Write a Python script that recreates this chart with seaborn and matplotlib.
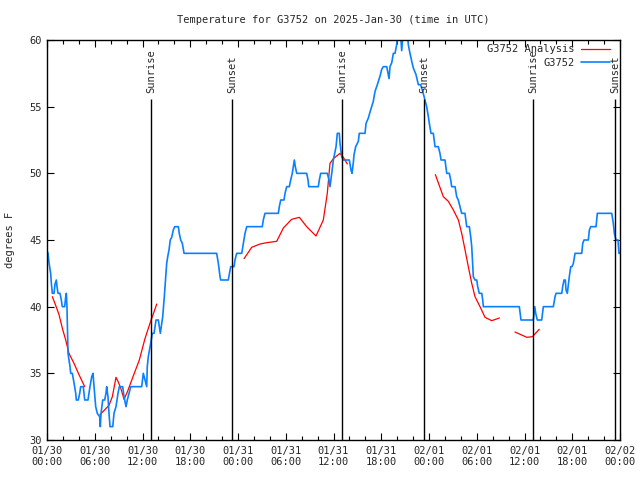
import numpy as np
import pandas as pd
import matplotlib
matplotlib.use("Agg")
import matplotlib.pyplot as plt
import seaborn as sns
from matplotlib.ticker import MultipleLocator
from matplotlib.lines import Line2D

# ---- data (hours since 2025-01-30 00:00 UTC, degrees F) ----
obs_hours = [0, 0.13, 0.25, 0.46, 0.54, 0.67, 0.88, 1.01, 1.17, 1.26, 1.38, 1.63, 1.80, 1.92,
             2.22, 2.35, 2.43, 2.51, 2.64, 2.89, 2.98, 3.18, 3.39, 3.61, 3.68, 3.93, 4.11, 4.23,
             4.56, 4.74, 5.15, 5.40, 5.62, 5.78, 5.91, 6.12, 6.32, 6.62, 6.70, 6.79, 7.00, 7.25,
             7.41, 7.50, 7.67, 7.79, 7.92, 8.26, 8.42, 8.67, 8.92, 9.09, 9.51, 9.68, 9.93, 10.09,
             10.30, 10.52, 10.93, 11.90, 12.10, 12.31, 12.53, 12.60, 12.73, 13.03, 13.23, 13.45,
             13.70, 13.99, 14.11, 14.24, 14.36, 14.54, 14.74, 14.92, 15.04, 15.17, 15.33, 15.49,
             15.67, 15.87, 16.05, 16.50, 16.62, 16.80, 17.00, 17.22, 21.32, 21.53, 21.74, 21.83,
             22.78, 23.00, 23.08, 23.50, 23.62, 23.84, 24.47, 24.67, 24.88, 25.10, 27.05, 27.18,
             27.39, 29.07, 29.19, 29.37, 29.78, 29.91, 30.12, 30.45, 30.62, 30.82, 30.95, 31.08,
             31.20, 31.38, 32.63, 32.80, 32.89, 34.09, 34.22, 34.39, 35.22, 35.44, 35.56, 35.78,
             35.98, 36.32, 36.48, 36.73, 36.82, 37.03, 37.23, 37.99, 38.20, 38.33, 38.49, 38.58,
             38.79, 39.12, 39.24, 39.96, 40.09, 40.38, 40.59, 41.00, 41.22, 41.51, 41.85, 42.06,
             42.26, 42.69, 42.89, 42.98, 43.10, 43.32, 43.52, 43.73, 43.94, 44.14, 44.36, 44.57,
             44.80, 45.24, 45.40, 45.61, 45.83, 46.03, 46.37, 46.66, 46.94, 47.21, 47.50, 47.71,
             47.92, 48.04, 48.25, 48.54, 48.76, 49.17, 49.38, 49.51, 50.01, 50.23, 50.55, 50.73,
             50.85, 51.27, 51.48, 51.68, 51.90, 52.11, 52.52, 52.74, 53.07, 53.24, 53.37, 53.57,
             53.78, 54.00, 54.12, 54.32, 54.63, 54.75, 54.83, 59.35, 59.56, 61.11, 61.29, 61.41,
             61.61, 62.16, 62.37, 63.62, 63.84, 63.96, 64.68, 64.80, 64.97, 65.13, 65.22, 65.38,
             65.63, 65.81, 65.97, 66.14, 66.35, 67.19, 67.32, 67.48, 68.02, 68.15, 68.32, 68.99,
             69.15, 70.96, 71.16, 71.29, 71.50, 71.75, 71.87, 72.00]
obs_temp = [44.2, 44.0, 43.3, 42.5, 41.8, 41.0, 41.0, 41.7, 42.0, 41.5, 41.0, 41.0, 40.5, 40.0,
            40.0, 40.75, 41.0, 40.0, 36.5, 35.5, 35.0, 35.0, 34.3, 33.5, 33.0, 33.0, 33.5, 34.0,
            34.0, 33.0, 33.0, 34.0, 34.75, 35.0, 34.0, 32.5, 32.0, 31.75, 31.0, 32.0, 33.0, 33.0,
            33.5, 34.0, 33.2, 32.0, 31.0, 31.0, 32.0, 32.5, 33.5, 34.0, 34.0, 33.25, 32.5, 33.0,
            33.5, 34.0, 34.0, 34.0, 35.0, 34.5, 34.0, 35.5, 36.25, 37.25, 38.0, 38.0,
            39.0, 39.0, 38.5, 38.0, 38.5, 39.25, 40.75, 42.25, 43.25, 43.75, 44.25, 45.0,
            45.2, 45.75, 46.0, 46.0, 45.5, 45.0, 44.75, 44.0, 44.0, 43.25, 42.25, 42.0,
            42.0, 42.75, 43.0, 43.0, 43.5, 44.0, 44.0, 44.75, 45.5, 46.0, 46.0, 46.5,
            47.0, 47.0, 47.5, 48.0, 48.0, 48.5, 49.0, 49.0, 49.5, 50.0, 50.5, 51.0,
            50.5, 50.0, 50.0, 49.5, 49.0, 49.0, 49.5, 50.0, 50.0, 49.5, 49.0, 50.0,
            51.0, 52.0, 53.0, 53.0, 52.25, 51.25, 51.0, 51.0, 50.25, 50.0, 50.8, 51.4,
            52.0, 52.4, 53.0, 53.0, 53.75, 54.15, 54.6, 55.4, 56.15, 56.65, 57.3, 57.8,
            58.0, 58.0, 57.4, 57.1, 58.0, 58.3, 59.0, 59.0, 59.65, 61.0, 61.0, 59.2,
            61.0, 61.0, 59.65, 59.0, 58.4, 57.9, 57.4, 56.65, 56.65, 56.15, 55.5, 55.0,
            54.25, 53.75, 53.0, 53.0, 52.0, 52.0, 51.5, 51.0, 51.0, 50.0, 50.0, 49.5,
            49.0, 49.0, 48.25, 48.0, 47.5, 47.0, 47.0, 46.0, 46.0, 45.25, 44.5, 42.25,
            42.0, 42.0, 41.5, 41.0, 41.0, 40.5, 40.0, 40.0, 39.0, 39.0, 40.0, 39.5,
            39.0, 39.0, 40.0, 40.0, 40.75, 41.0, 41.0, 41.5, 42.0, 42.0, 41.25, 41.0,
            42.25, 43.0, 43.0, 43.25, 44.0, 44.0, 44.75, 45.0, 45.0, 45.75, 46.0, 46.0,
            47.0, 47.0, 46.25, 45.5, 45.0, 45.0, 44.0, 44.0]

# analysis series, separate segments (gaps between them)
ana_hours = [0.67, 1.09, 1.51, 1.92, 2.35, 2.76, 3.39, 4.02, 4.74,
             6.66, 7.79, 8.21, 8.67, 8.92, 9.26, 9.68, 10.09, 10.84, 11.6, 12.31, 12.94, 13.79,
             24.76, 25.72, 26.77, 27.61, 28.86, 29.7, 30.74, 31.71, 32.63, 33.8, 34.72, 35.22,
             35.56, 35.98, 36.82, 37.23, 37.74,
             48.8, 49.8, 50.43, 51.06, 51.69, 52.11, 52.53, 52.94, 53.37, 53.78, 54.41, 55.04,
             55.88, 56.84,
             58.8, 60.3, 61.0, 61.85]
ana_temp = [40.75, 40.1, 39.4, 38.4, 37.5, 36.5, 35.75, 34.9, 34.0,
            31.9, 32.6, 33.25, 34.7, 34.4, 33.9, 33.05, 33.6, 34.8, 36.0, 37.6, 38.75, 40.2,
            43.6, 44.45, 44.7, 44.8, 44.9, 45.9, 46.55, 46.7, 46.0, 45.3, 46.5, 48.5,
            50.75, 51.1, 51.5, 51.2, 50.7,
            49.9, 48.25, 47.9, 47.25, 46.5, 45.5, 44.25, 43.0, 41.75, 40.75, 40.0, 39.2,
            38.95, 39.15,
            38.1, 37.7, 37.75, 38.3]
ana_segment = [1] * 9 + [2] * 13 + [3] * 17 + [4] * 14 + [5] * 4

sun_hours = [13.07, 23.24, 37.06, 47.36, 61.06, 71.36]
sun_labels = ["Sunrise", "Sunset", "Sunrise", "Sunset", "Sunrise", "Sunset"]

tick_hours = list(range(0, 73, 6))
tick_labels = ["01/30\n00:00", "01/30\n06:00", "01/30\n12:00", "01/30\n18:00",
               "01/31\n00:00", "01/31\n06:00", "01/31\n12:00", "01/31\n18:00",
               "02/01\n00:00", "02/01\n06:00", "02/01\n12:00", "02/01\n18:00",
               "02/02\n00:00"]

obs = pd.DataFrame({"hour": obs_hours, "temp": obs_temp})
ana = pd.DataFrame({"hour": ana_hours, "temp": ana_temp, "seg": ana_segment})

sns.set_theme(style="ticks")
plt.rcParams['font.family'] = ['DejaVu Sans Mono']
plt.rcParams['font.size'] = 7

blue = "#0a80ff"
red = "#ff0000"

fig = plt.figure(figsize=(6.4, 4.8), dpi=100)
ax = fig.add_axes([47 / 640, 40 / 480, 573 / 640, 400 / 480])

sns.lineplot(data=ana, x="hour", y="temp", units="seg", estimator=None,
             color=red, linewidth=0.9, ax=ax)
sns.lineplot(data=obs, x="hour", y="temp", color=blue, linewidth=1.2, ax=ax)

for h, lab in zip(sun_hours, sun_labels):
    ax.vlines(h, 30, 55.55, color="black", linewidth=1)
    ax.text(h, 56.0, lab, rotation=90, ha="center", va="bottom", fontsize=7.5)

ax.set_xlim(0, 72)
ax.set_ylim(30, 60)
ax.set_xticks(tick_hours)
ax.set_xticklabels(tick_labels)
ax.xaxis.set_minor_locator(MultipleLocator(2))
ax.set_yticks(range(30, 61, 5))
ax.tick_params(axis="both", which="both", direction="in", top=True, right=True,
               color="black", labelsize=7.5, pad=4)
ax.tick_params(which="major", length=5, width=0.8)
ax.tick_params(which="minor", length=3, width=0.8)
for s in ax.spines.values():
    s.set_color("black")
    s.set_linewidth(1)

ax.set_xlabel("")
ax.set_ylabel("degrees F", fontsize=7.5, labelpad=10)
fig.text(333 / 640, 1 - 20 / 480, "Temperature for G3752 on 2025-Jan-30 (time in UTC)",
         ha="center", va="center", fontsize=7.5)

# legend: text first, line sample after it, like the reference
handles = [Line2D([], [], color=red, linewidth=0.9), Line2D([], [], color=blue, linewidth=1.2)]
ax.legend(handles, ["G3752 Analysis", "G3752"], loc="upper right", frameon=False,
          markerfirst=False, handlelength=2.8, fontsize=7.5, borderaxespad=0.0,
          bbox_to_anchor=(1 - 6 / 573, 1.0), labelspacing=0.35, handletextpad=0.6)

fig.savefig("out.png", dpi=100)
